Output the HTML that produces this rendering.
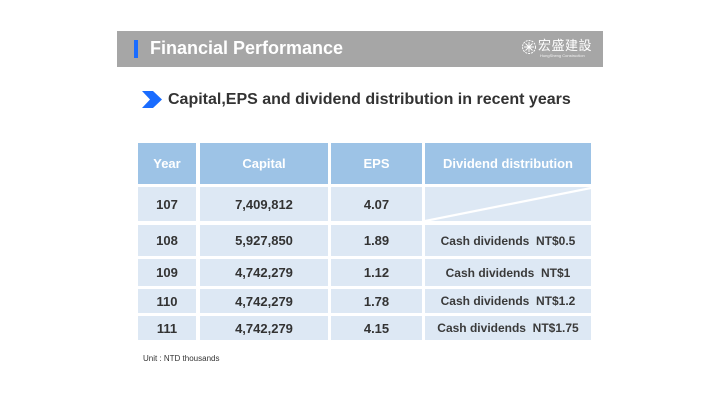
<!DOCTYPE html>
<html>
<head>
<meta charset="utf-8">
<style>
  html,body{margin:0;padding:0;background:#fff;}
  body{width:720px;height:405px;position:relative;overflow:hidden;font-family:"Liberation Sans","Noto Sans CJK TC",sans-serif;}
  .abs{position:absolute;}
  .bar{left:117px;top:31px;width:486px;height:36px;background:#a6a6a6;}
  .mark{left:134px;top:40px;width:4px;height:18px;background:#1a6cff;}
  .title{left:150px;top:37px;font-size:18px;font-weight:bold;color:#fff;line-height:22px;white-space:nowrap;}
  .sub{left:168px;top:90px;font-size:16px;font-weight:bold;color:#333;line-height:20px;white-space:nowrap;}
  .cell{position:absolute;display:flex;align-items:center;justify-content:center;white-space:nowrap;}
  .h{background:#9dc3e6;color:#fff;font-weight:bold;font-size:13px;}
  .r{background:#dde8f4;color:#333;font-weight:bold;font-size:13px;}
  .d{font-size:12px;color:#3a3a3a;}
  .unit{left:143px;top:354px;font-size:8px;color:#333;white-space:nowrap;}
</style>
</head>
<body>
  <div class="abs bar"></div>
  <div class="abs mark"></div>
  <div class="abs title">Financial Performance</div>

  <!-- logo -->
  <svg class="abs" style="left:521px;top:39px" width="16" height="16" viewBox="0 0 16 16">
    <circle cx="8" cy="8" r="6.5" fill="none" stroke="#fff" stroke-width="1" stroke-dasharray="2 1"/>
    <path d="M3 8 H13 M8 3 V13 M4.5 4.5 L11.5 11.5 M11.5 4.5 L4.5 11.5" stroke="#fff" stroke-width="0.9"/>
  </svg>
  <div class="abs" style="left:538px;top:38px;font-size:13px;line-height:14px;color:#fff;font-family:'Noto Sans CJK TC','WenQuanYi Zen Hei',sans-serif;letter-spacing:0.5px;white-space:nowrap;">宏盛建設</div>
  <div class="abs" style="left:540px;top:53px;font-size:4px;line-height:5px;color:#f2f2f2;white-space:nowrap;">HungSheng Construction</div>

  <!-- subtitle -->
  <svg class="abs" style="left:142px;top:91px" width="20" height="17" viewBox="0 0 20 17">
    <polygon points="0,0 11,0 20,8.5 11,17 0,17 8,8.5" fill="#1a6cff"/>
  </svg>
  <div class="abs sub">Capital,EPS and dividend distribution in recent years</div>

  <!-- header row -->
  <div class="cell h" style="left:138px;top:143px;width:58px;height:41px;">Year</div>
  <div class="cell h" style="left:200px;top:143px;width:128px;height:41px;">Capital</div>
  <div class="cell h" style="left:331px;top:143px;width:91px;height:41px;">EPS</div>
  <div class="cell h" style="left:425px;top:143px;width:166px;height:41px;">Dividend distribution</div>

  <!-- row 107 -->
  <div class="cell r" style="left:138px;top:187px;width:58px;height:34px;">107</div>
  <div class="cell r" style="left:200px;top:187px;width:128px;height:34px;">7,409,812</div>
  <div class="cell r" style="left:331px;top:187px;width:91px;height:34px;">4.07</div>
  <div class="cell r" style="left:425px;top:187px;width:166px;height:34px;"></div>
  <svg class="abs" style="left:425px;top:187px" width="166" height="34" viewBox="0 0 166 34">
    <line x1="0" y1="34" x2="166" y2="1" stroke="#fff" stroke-width="2.2"/>
  </svg>

  <!-- row 108 -->
  <div class="cell r" style="left:138px;top:225px;width:58px;height:31px;">108</div>
  <div class="cell r" style="left:200px;top:225px;width:128px;height:31px;">5,927,850</div>
  <div class="cell r" style="left:331px;top:225px;width:91px;height:31px;">1.89</div>
  <div class="cell r d" style="left:425px;top:225px;width:166px;height:31px;">Cash dividends&nbsp;&nbsp;NT$0.5</div>

  <!-- row 109 -->
  <div class="cell r" style="left:138px;top:259px;width:58px;height:27px;">109</div>
  <div class="cell r" style="left:200px;top:259px;width:128px;height:27px;">4,742,279</div>
  <div class="cell r" style="left:331px;top:259px;width:91px;height:27px;">1.12</div>
  <div class="cell r d" style="left:425px;top:259px;width:166px;height:27px;">Cash dividends&nbsp;&nbsp;NT$1</div>

  <!-- row 110 -->
  <div class="cell r" style="left:138px;top:289px;width:58px;height:24px;">110</div>
  <div class="cell r" style="left:200px;top:289px;width:128px;height:24px;">4,742,279</div>
  <div class="cell r" style="left:331px;top:289px;width:91px;height:24px;">1.78</div>
  <div class="cell r d" style="left:425px;top:289px;width:166px;height:24px;">Cash dividends&nbsp;&nbsp;NT$1.2</div>

  <!-- row 111 -->
  <div class="cell r" style="left:138px;top:316px;width:58px;height:24px;">111</div>
  <div class="cell r" style="left:200px;top:316px;width:128px;height:24px;">4,742,279</div>
  <div class="cell r" style="left:331px;top:316px;width:91px;height:24px;">4.15</div>
  <div class="cell r d" style="left:425px;top:316px;width:166px;height:24px;">Cash dividends&nbsp;&nbsp;NT$1.75</div>

  <div class="abs unit">Unit : NTD thousands</div>
</body>
</html>
